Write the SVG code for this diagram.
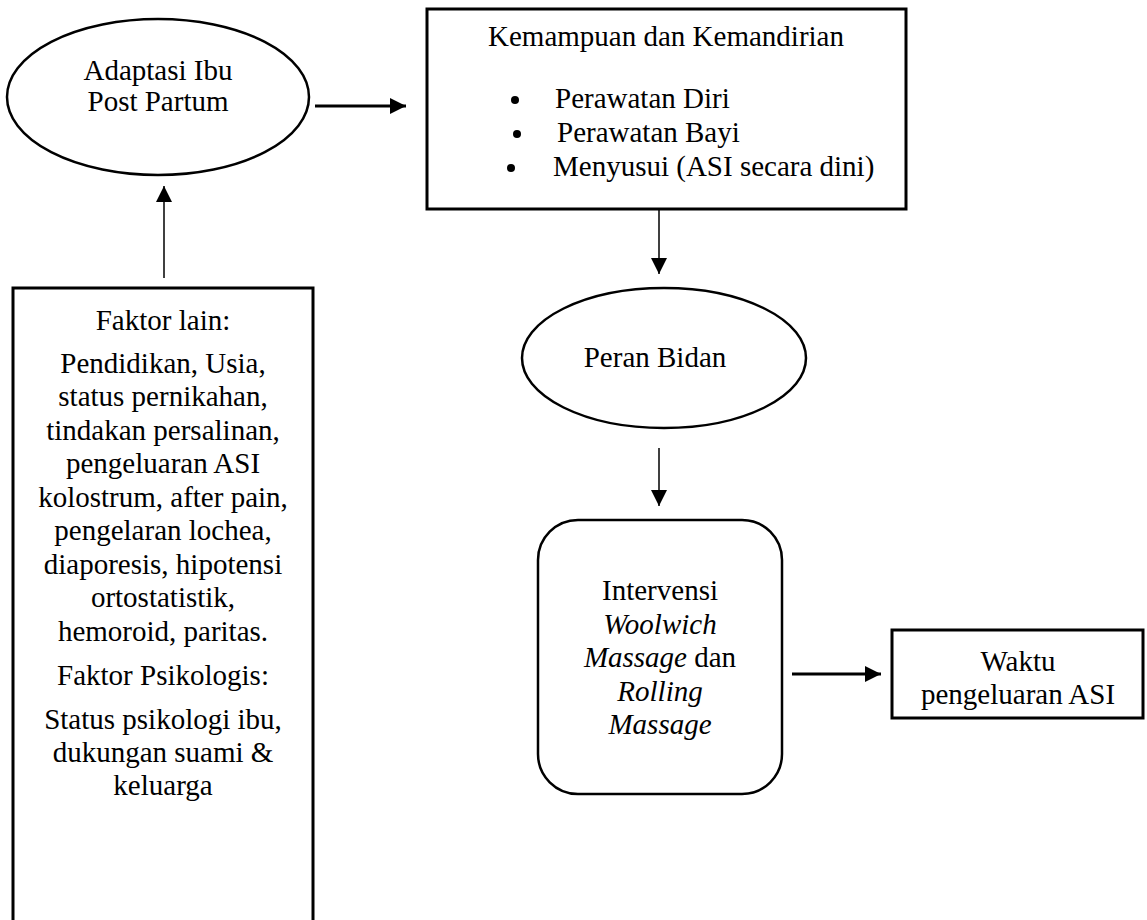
<svg xmlns="http://www.w3.org/2000/svg" width="1147" height="920" viewBox="0 0 1147 920">
<style>
  .shape { fill: #ffffff; stroke: #000000; stroke-width: 2.5; }
  .box { fill: #ffffff; stroke: #000000; stroke-width: 3; }
  text { font-family: "Liberation Serif", "Times New Roman", serif; font-size: 29px; fill: #000000; }
  .c { text-anchor: middle; }
  .conn { fill: none; stroke: #000000; }
  .thin { stroke-width: 1.5; }
  .thick { stroke-width: 3; }
</style>
<defs>
  <marker id="arr" viewBox="0 0 10 10" refX="10" refY="5" markerWidth="17" markerHeight="16" markerUnits="userSpaceOnUse" orient="auto">
    <path d="M0,0 L10,5 L0,10 z" fill="#000000"/>
  </marker>
</defs>
<rect x="0" y="0" width="1147" height="920" fill="#ffffff"/>

<g id="connectors">
  <path class="conn thick" d="M315,106 L406,106" marker-end="url(#arr)"/>
  <path class="conn thin" d="M164,278 L164,186" marker-end="url(#arr)"/>
  <path class="conn thin" d="M659,210 L659,274" marker-end="url(#arr)"/>
  <path class="conn thin" d="M659,448 L659,506" marker-end="url(#arr)"/>
  <path class="conn thick" d="M792,674 L881,674" marker-end="url(#arr)"/>
</g>

<g id="adaptasi">
  <ellipse class="shape" cx="158" cy="97" rx="151" ry="78"/>
  <text class="c" x="158" y="80">Adaptasi Ibu</text>
  <text class="c" x="158" y="111">Post Partum</text>
</g>

<g id="kemampuan">
  <rect class="box" x="427" y="9" width="479" height="200"/>
  <text class="c" x="666" y="46">Kemampuan dan Kemandirian</text>
  <circle cx="515" cy="100" r="4"/>
  <text x="555" y="108">Perawatan Diri</text>
  <circle cx="517" cy="134" r="4"/>
  <text x="557" y="142">Perawatan Bayi</text>
  <circle cx="511" cy="168" r="4"/>
  <text x="553" y="176">Menyusui (ASI secara dini)</text>
</g>

<g id="faktor">
  <rect class="box" x="13" y="288" width="300" height="640"/>
  <text class="c" x="163" y="330">Faktor lain:</text>
  <text class="c" x="163" y="373">Pendidikan, Usia,</text>
  <text class="c" x="163" y="406">status pernikahan,</text>
  <text class="c" x="163" y="440">tindakan persalinan,</text>
  <text class="c" x="163" y="473">pengeluaran ASI</text>
  <text class="c" x="163" y="507">kolostrum, after pain,</text>
  <text class="c" x="163" y="540">pengelaran lochea,</text>
  <text class="c" x="163" y="574">diaporesis, hipotensi</text>
  <text class="c" x="163" y="607">ortostatistik,</text>
  <text class="c" x="163" y="641">hemoroid, paritas.</text>
  <text class="c" x="163" y="685">Faktor Psikologis:</text>
  <text class="c" x="163" y="729">Status psikologi ibu,</text>
  <text class="c" x="163" y="762">dukungan suami &amp;</text>
  <text class="c" x="163" y="795">keluarga</text>
</g>

<g id="peran">
  <ellipse class="shape" cx="664" cy="358" rx="142" ry="70"/>
  <text class="c" x="655" y="367">Peran Bidan</text>
</g>

<g id="intervensi">
  <rect class="shape" x="538" y="520" width="244" height="274" rx="40" ry="40"/>
  <text class="c" x="660" y="600">Intervensi</text>
  <text class="c" x="660" y="634" font-style="italic">Woolwich</text>
  <text class="c" x="660" y="667"><tspan font-style="italic">Massage</tspan> dan</text>
  <text class="c" x="660" y="701" font-style="italic">Rolling</text>
  <text class="c" x="660" y="734" font-style="italic">Massage</text>
</g>

<g id="waktu">
  <rect class="box" x="892" y="630" width="251" height="88"/>
  <text class="c" x="1018" y="671">Waktu</text>
  <text class="c" x="1018" y="704">pengeluaran ASI</text>
</g>
</svg>
